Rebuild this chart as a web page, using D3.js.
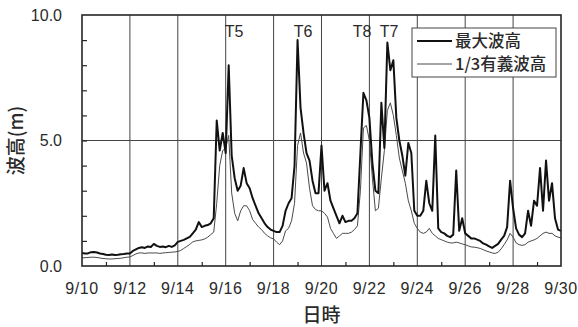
<!DOCTYPE html>
<html>
<head>
<meta charset="utf-8">
<script src="https://cdn.jsdelivr.net/npm/d3@7"></script>
<style>
  html, body { margin: 0; padding: 0; background: #fff; }
  svg { display: block; }
  text { font-family: "Liberation Sans", Arial, sans-serif; fill: #2a2a2a; }
  .jp { font-family: "Noto Sans CJK JP", "Noto Sans", sans-serif; }
</style>
</head>
<body>
<svg id="chart" width="578" height="327"></svg>
<script>
// Wave heights (m) sampled every 3 hours from 9/10 00:00 to 9/30 00:00
const stepHours = 3;

const maxWave = [
  0.52,0.50,0.50,0.55,0.56,0.54,0.50,0.48,   // 9/10
  0.45,0.44,0.46,0.44,0.45,0.47,0.48,0.50,   // 9/11
  0.50,0.60,0.66,0.72,0.75,0.72,0.78,0.76,   // 9/12
  0.88,0.80,0.76,0.78,0.75,0.80,0.76,0.82,   // 9/13
  0.96,1.00,1.04,1.10,1.16,1.30,1.45,1.75,   // 9/14
  1.55,1.60,1.63,1.70,1.90,5.80,4.60,5.30,   // 9/15
  4.50,8.00,4.40,3.50,3.00,3.20,3.90,3.30,   // 9/16
  3.10,2.70,2.40,2.10,1.90,1.70,1.55,1.45,   // 9/17
  1.40,1.35,1.35,1.60,2.20,2.50,2.70,4.00,   // 9/18
  9.00,6.30,5.30,4.50,4.20,3.40,2.90,2.90,   // 9/19
  4.80,3.00,3.30,2.60,2.30,2.00,1.70,2.00,   // 9/20
  1.75,1.80,1.80,1.90,2.10,4.50,6.90,6.60,   // 9/21
  5.90,4.10,3.00,2.90,6.50,4.70,8.90,7.80,   // 9/22
  8.20,5.90,5.00,4.40,3.60,4.90,4.50,2.20,   // 9/23
  2.00,2.00,2.20,3.40,2.50,2.20,5.20,1.50,   // 9/24
  1.35,1.30,1.20,1.15,1.25,3.80,1.40,1.90,   // 9/25
  1.30,1.20,1.10,1.10,1.05,1.00,0.90,0.85,   // 9/26
  0.78,0.72,0.80,0.88,1.05,1.20,1.55,3.40,   // 9/27
  2.30,1.50,1.25,1.15,1.30,2.20,1.60,2.60,   // 9/28
  2.40,3.90,2.20,4.20,2.60,3.30,1.90,1.45,   // 9/29
  1.40                                        // 9/30
];

const sigWave = [
  0.32,0.33,0.34,0.35,0.35,0.34,0.32,0.30,   // 9/10
  0.29,0.28,0.28,0.29,0.30,0.31,0.33,0.35,   // 9/11
  0.36,0.42,0.48,0.52,0.52,0.50,0.52,0.52,   // 9/12
  0.52,0.52,0.50,0.52,0.53,0.54,0.55,0.56,   // 9/13
  0.58,0.62,0.70,0.78,0.86,0.96,1.00,1.02,   // 9/14
  1.04,1.08,1.15,1.25,1.35,2.50,4.00,4.60,   // 9/15
  4.70,5.20,2.90,2.10,1.80,2.20,2.40,2.40,   // 9/16
  2.20,1.85,1.70,1.55,1.45,1.30,1.20,1.12,   // 9/17
  1.08,0.95,0.85,1.00,1.40,1.50,1.80,2.50,   // 9/18
  4.80,5.30,4.50,4.10,3.10,2.40,2.25,2.20,   // 9/19
  2.20,2.10,1.95,1.50,1.30,1.10,1.20,1.30,   // 9/20
  1.30,1.30,1.35,1.45,1.60,3.00,5.50,5.60,   // 9/21
  5.00,3.50,2.20,2.30,3.50,4.60,6.20,6.50,   // 9/22
  6.00,5.20,4.30,3.80,3.30,2.60,2.20,1.70,   // 9/23
  1.50,1.35,1.30,1.35,1.50,1.30,1.20,1.10,   // 9/24
  1.05,1.00,0.95,0.92,0.92,0.95,0.92,0.88,   // 9/25
  0.85,0.80,0.76,0.75,0.73,0.70,0.65,0.60,   // 9/26
  0.56,0.52,0.50,0.55,0.68,0.85,1.04,1.30,   // 9/27
  1.15,0.92,0.85,0.82,0.85,0.95,1.00,1.04,   // 9/28
  1.10,1.20,1.30,1.35,1.30,1.30,1.20,1.15,   // 9/29
  1.12                                        // 9/30
];

const xTickLabels = ["9/10","9/12","9/14","9/16","9/18","9/20","9/22","9/24","9/26","9/28","9/30"];
const yTickLabels = ["0.0","5.0","10.0"];
const seriesNames = ["最大波高", "1/3有義波高"];
const typhoonNames = ["T5", "T6", "T8", "T7"];
const typhoonDays = [6.35, 9.23, 11.69, 12.82];   // days after 9/10 00:00

const svg = d3.select("#chart");
const plot = { left: 82, right: 561, top: 15, bottom: 266 };

const x = d3.scaleLinear().domain([0, 20]).range([plot.left, plot.right]);
const y = d3.scaleLinear().domain([0, 10]).range([plot.bottom, plot.top]);

const ink = "#262626";

// vertical grid every 2 days
const g = svg.append("g");
g.selectAll(".vgrid").data(d3.range(2, 20, 2)).join("line")
  .attr("x1", d => x(d)).attr("x2", d => x(d))
  .attr("y1", plot.top).attr("y2", plot.bottom)
  .attr("stroke", "#444").attr("stroke-width", 1);
// horizontal grid at 5.0
g.append("line")
  .attr("x1", plot.left).attr("x2", plot.right)
  .attr("y1", y(5)).attr("y2", y(5))
  .attr("stroke", "#444").attr("stroke-width", 1);

// minor ticks pointing inward
const yAxis = d3.axisRight(y).tickValues(d3.range(1, 10)).tickSize(5).tickFormat("");
svg.append("g").attr("transform", `translate(${plot.left},0)`).call(yAxis)
  .call(s => s.select(".domain").remove())
  .selectAll("line").attr("stroke", ink).attr("stroke-width", 1.2);
const xAxis = d3.axisTop(x).tickValues(d3.range(1, 20, 2)).tickSize(4).tickFormat("");
svg.append("g").attr("transform", `translate(0,${plot.bottom})`).call(xAxis)
  .call(s => s.select(".domain").remove())
  .selectAll("line").attr("stroke", ink).attr("stroke-width", 1.2);

// series
const tOf = i => i * stepHours / 24;
const line = d3.line().x((d, i) => x(tOf(i))).y(d => y(d));

svg.append("path").datum(sigWave)
  .attr("d", line).attr("fill", "none")
  .attr("stroke", "#4a4a4a").attr("stroke-width", 1).attr("stroke-linejoin", "round");
svg.append("path").datum(maxWave)
  .attr("d", line).attr("fill", "none")
  .attr("stroke", "#111").attr("stroke-width", 2).attr("stroke-linejoin", "round");

// frame
svg.append("rect")
  .attr("x", plot.left).attr("y", plot.top)
  .attr("width", plot.right - plot.left).attr("height", plot.bottom - plot.top)
  .attr("fill", "none").attr("stroke", ink).attr("stroke-width", 1.6);

// tick labels
svg.selectAll(".ylab").data(yTickLabels).join("text")
  .attr("x", plot.left - 20).attr("y", d => y(+d)).attr("dy", "0.36em")
  .attr("text-anchor", "end").attr("font-size", 16).text(d => d);
svg.selectAll(".xlab").data(xTickLabels).join("text")
  .attr("x", (d, i) => x(i * 2)).attr("y", plot.bottom + 28)
  .attr("text-anchor", "middle").attr("font-size", 16)
  .attr("letter-spacing", 0.6).text(d => d);

// axis titles
svg.append("text").attr("class", "jp")
  .attr("transform", `translate(23,${y(5)}) rotate(-90)`)
  .attr("text-anchor", "middle").attr("font-size", 19).attr("font-weight", 500)
  .text("波高(m)");
svg.append("text").attr("class", "jp")
  .attr("x", x(10)).attr("y", 322)
  .attr("text-anchor", "middle").attr("font-size", 19).attr("font-weight", 500)
  .text("日時");

// typhoon labels
svg.selectAll(".ty").data(typhoonNames).join("text")
  .attr("x", (d, i) => x(typhoonDays[i])).attr("y", 37)
  .attr("text-anchor", "middle").attr("font-size", 16).text(d => d);

// legend
const lg = svg.append("g");
lg.append("rect").attr("x", 412).attr("y", 28).attr("width", 144).attr("height", 49)
  .attr("fill", "#fff").attr("stroke", "#444").attr("stroke-width", 1);
const legendStroke = [2, 1];
const legendColor = ["#111", "#4a4a4a"];
seriesNames.forEach((name, i) => {
  const ly = 41 + i * 23;
  lg.append("line").attr("x1", 417).attr("x2", 452).attr("y1", ly).attr("y2", ly)
    .attr("stroke", legendColor[i]).attr("stroke-width", legendStroke[i]);
  lg.append("text").attr("class", "jp").attr("x", 455).attr("y", ly).attr("dy", "0.36em")
    .attr("font-size", 16.5).attr("font-weight", 500).text(name);
});
</script>
</body>
</html>
